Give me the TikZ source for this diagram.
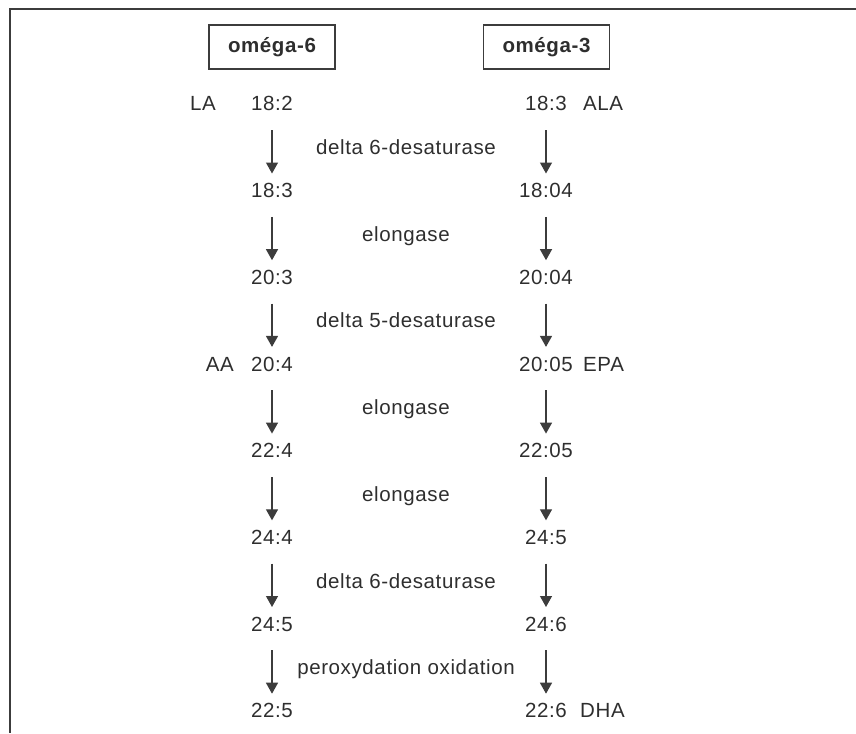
\documentclass[tikz,border=0pt]{standalone}
\usepackage{fontspec}
\setmainfont[LetterSpace=3]{Liberation Sans}
\usetikzlibrary{arrows.meta}
\definecolor{txt}{HTML}{2E2E2E}
\definecolor{ln}{HTML}{3C3C3C}
\begin{document}
\begin{tikzpicture}[x=1pt,y=-1pt,
  lbl/.style={inner sep=0pt,text height=14pt,text depth=0pt,anchor=base,text=txt,font=\fontsize{20.5}{24}\selectfont},
  side/.style={lbl},
  hdr/.style={draw=ln,line width=1.4pt,minimum width=126pt,minimum height=44pt,inner sep=0pt,text=txt,font=\fontsize{20.5}{24}\selectfont\bfseries},
  flow/.style={draw=ln,line width=1.3pt,-{Triangle[width=12pt,length=11pt]},shorten <=19pt,shorten >=10pt}]
\useasboundingbox (0,0) rectangle (856,733);
\draw[ln,line width=2pt] (856,9) -- (10,9) -- (10,733);
\node[hdr] (h6) at (272,47) {oméga-6};
\node[hdr] (h3) at (546.5,47) {oméga-3};
% rows
\def\ya{111}\def\yb{197.7}\def\yc{284.4}\def\yd{371.1}\def\ye{457.8}\def\yf{544.5}\def\yg{631.2}\def\yh{717.9}
\node[lbl] (l1) at (272,\ya) {18:2};
\node[lbl] (l2) at (272,\yb) {18:3};
\node[lbl] (l3) at (272,\yc) {20:3};
\node[lbl] (l4) at (272,\yd) {20:4};
\node[lbl] (l5) at (272,\ye) {22:4};
\node[lbl] (l6) at (272,\yf) {24:4};
\node[lbl] (l7) at (272,\yg) {24:5};
\node[lbl] (l8) at (272,\yh) {22:5};
\node[lbl] (r1) at (546,\ya) {18:3};
\node[lbl] (r2) at (546,\yb) {18:04};
\node[lbl] (r3) at (546,\yc) {20:04};
\node[lbl] (r4) at (546,\yd) {20:05};
\node[lbl] (r5) at (546,\ye) {22:05};
\node[lbl] (r6) at (546,\yf) {24:5};
\node[lbl] (r7) at (546,\yg) {24:6};
\node[lbl] (r8) at (546,\yh) {22:6};
% names
\node[side,anchor=base east] (la) at (216,\ya) {LA};
\node[side,anchor=base east] (aa) at (234,\yd) {AA};
\node[side,anchor=base west] (ala) at (583,\ya) {ALA};
\node[side,anchor=base west] (epa) at (583,\yd) {EPA};
\node[side,anchor=base west] (dha) at (580,\yh) {DHA};
% enzymes
\node[lbl] (e1) at (406,154) {delta 6-desaturase};
\node[lbl] (e2) at (406,241) {elongase};
\node[lbl] (e3) at (406,327.5) {delta 5-desaturase};
\node[lbl] (e4) at (406,414) {elongase};
\node[lbl] (e5) at (406,501) {elongase};
\node[lbl] (e6) at (406,588) {delta 6-desaturase};
\node[lbl] (e7) at (406,674.5) {peroxydation oxidation};
% arrows
\foreach \a/\b in {1/2,2/3,3/4,4/5,5/6,6/7,7/8}{
  \draw[flow] (l\a.south) -- (l\b.north);
  \draw[flow] (r\a.south) -- (r\b.north);
}
\end{tikzpicture}
\end{document}
